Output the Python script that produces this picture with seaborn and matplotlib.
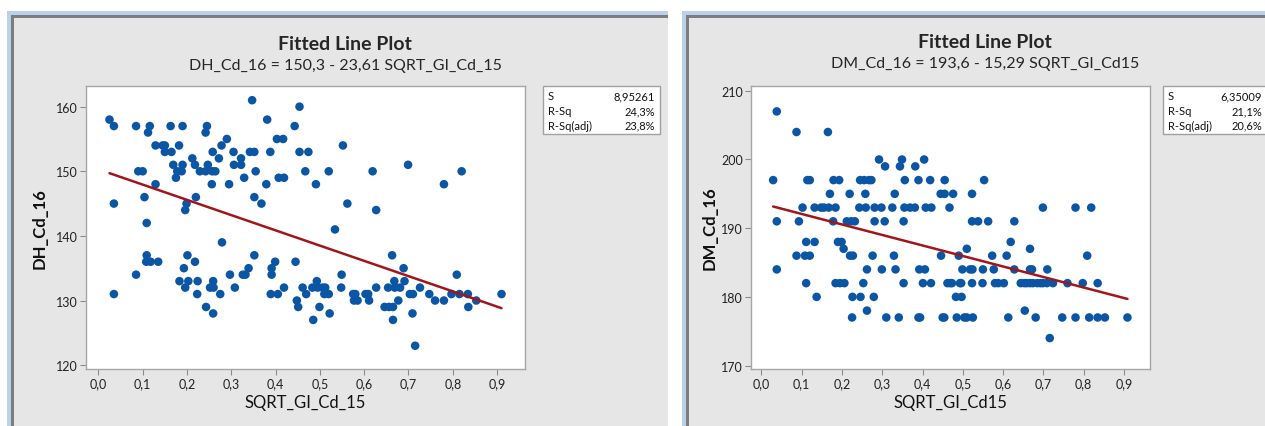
import numpy as np
import pandas as pd
import matplotlib
matplotlib.use("Agg")
import matplotlib.pyplot as plt
from matplotlib.patches import Rectangle
import seaborn as sns

# ---- data ----
dh_x = [0.025, 0.035, 0.035, 0.035, 0.085, 0.085, 0.09, 0.10, 0.104, 0.109, 0.109, 0.108,
        0.112, 0.116, 0.118, 0.129, 0.129, 0.135, 0.145, 0.15, 0.15, 0.163, 0.165, 0.169,
        0.175, 0.178, 0.182, 0.183, 0.188, 0.19, 0.19, 0.193, 0.196, 0.196, 0.199, 0.201,
        0.203, 0.212, 0.218, 0.22, 0.218, 0.223, 0.224, 0.229, 0.242, 0.245, 0.243, 0.242,
        0.247, 0.252, 0.256, 0.258, 0.257, 0.264, 0.259, 0.26, 0.259, 0.272, 0.275, 0.278,
        0.279, 0.29, 0.295, 0.297, 0.305, 0.306, 0.308, 0.322, 0.322, 0.329, 0.326, 0.332,
        0.339, 0.342, 0.347, 0.352, 0.352, 0.352, 0.355, 0.368, 0.379, 0.381, 0.388, 0.389,
        0.391, 0.391, 0.399, 0.403, 0.405, 0.407, 0.417, 0.419, 0.419, 0.443, 0.445, 0.448,
        0.451, 0.454, 0.454, 0.461, 0.467, 0.469, 0.474, 0.483, 0.485, 0.491, 0.493, 0.495,
        0.499, 0.506, 0.512, 0.51, 0.52, 0.522, 0.52, 0.534, 0.548, 0.549, 0.552, 0.562,
        0.575, 0.58, 0.577, 0.585, 0.603, 0.609, 0.611, 0.619, 0.627, 0.627, 0.646, 0.656,
        0.665, 0.654, 0.663, 0.665, 0.668, 0.669, 0.677, 0.681, 0.689, 0.691, 0.699, 0.703,
        0.71, 0.709, 0.715, 0.726, 0.747, 0.76, 0.78, 0.78, 0.797, 0.809, 0.815, 0.82,
        0.834, 0.835, 0.853, 0.91]
dh_y = [158, 157, 145, 131, 157, 134, 150, 150, 146, 142, 137, 136,
        156, 157, 136, 148, 154, 136, 154, 154, 153, 157, 153, 151,
        149, 150, 154, 133, 150, 157, 151, 135, 144, 132, 145, 137,
        133, 152, 151, 146, 136, 131, 133, 150, 156, 157, 129, 150,
        151, 132, 148, 153, 150, 150, 133, 132, 128, 152, 131, 154,
        139, 155, 148, 134, 153, 151, 132, 152, 151, 149, 134, 134,
        135, 153, 161, 153, 146, 137, 150, 145, 148, 158, 153, 131,
        135, 134, 136, 155, 131, 149, 155, 149, 132, 157, 136, 130,
        129, 160, 153, 132, 150, 131, 153, 132, 127, 148, 133, 132,
        129, 132, 132, 131, 131, 128, 150, 141, 132, 134, 154, 145,
        131, 131, 130, 130, 131, 131, 130, 150, 144, 132, 129, 129,
        129, 132, 137, 127, 133, 132, 130, 132, 135, 133, 151, 131,
        131, 128, 123, 132, 131, 130, 148, 130, 131, 134, 131, 150,
        131, 129, 130, 131]

dm_x = [0.029, 0.038, 0.038, 0.038, 0.087, 0.087, 0.093, 0.102, 0.108, 0.111, 0.111, 0.114,
        0.12, 0.12, 0.132, 0.132, 0.137, 0.148, 0.155, 0.165, 0.167, 0.17, 0.178, 0.179,
        0.184, 0.184, 0.193, 0.19, 0.199, 0.195, 0.206, 0.204, 0.212, 0.223, 0.232, 0.219,
        0.22, 0.227, 0.225, 0.226, 0.243, 0.245, 0.246, 0.253, 0.255, 0.258, 0.259, 0.262,
        0.262, 0.267, 0.273, 0.276, 0.279, 0.281, 0.281, 0.292, 0.298, 0.299, 0.306, 0.307,
        0.31, 0.325, 0.329, 0.331, 0.333, 0.341, 0.344, 0.349, 0.353, 0.353, 0.356, 0.355,
        0.369, 0.381, 0.382, 0.39, 0.39, 0.394, 0.392, 0.406, 0.401, 0.404, 0.408, 0.422,
        0.419, 0.421, 0.445, 0.455, 0.446, 0.45, 0.454, 0.455, 0.462, 0.469, 0.473, 0.467,
        0.476, 0.483, 0.497, 0.485, 0.49, 0.493, 0.496, 0.499, 0.504, 0.51, 0.51, 0.518,
        0.524, 0.523, 0.523, 0.523, 0.525, 0.538, 0.549, 0.55, 0.553, 0.563, 0.573, 0.577,
        0.58, 0.588, 0.602, 0.609, 0.613, 0.619, 0.628, 0.628, 0.644, 0.653, 0.659, 0.667,
        0.674, 0.654, 0.667, 0.667, 0.672, 0.681, 0.685, 0.693, 0.699, 0.699, 0.71, 0.716,
        0.709, 0.724, 0.747, 0.76, 0.78, 0.78, 0.798, 0.809, 0.814, 0.819, 0.835, 0.835,
        0.853, 0.909]
dm_y = [197, 207, 191, 184, 204, 186, 191, 193, 186, 188, 182, 197,
        197, 186, 193, 188, 180, 193, 193, 204, 193, 195, 191, 197,
        193, 182, 197, 188, 188, 182, 182, 187, 191, 191, 191, 195,
        186, 186, 177, 180, 193, 197, 180, 182, 197, 195, 193, 184,
        178, 197, 197, 186, 180, 193, 191, 200, 193, 184, 191, 199,
        177, 193, 186, 195, 184, 177, 199, 200, 191, 182, 197, 193,
        193, 193, 199, 197, 177, 177, 184, 184, 182, 200, 193, 193,
        197, 182, 195, 195, 186, 177, 177, 197, 182, 182, 182, 193,
        195, 180, 180, 177, 186, 182, 182, 184, 177, 177, 187, 184,
        184, 195, 191, 182, 177, 191, 182, 184, 197, 191, 186, 184,
        182, 182, 182, 186, 177, 188, 191, 184, 182, 182, 182, 182,
        182, 178, 187, 184, 184, 177, 182, 182, 182, 193, 184, 174,
        182, 182, 177, 182, 193, 177, 182, 186, 177, 193, 182, 177,
        177, 177]

# regression coefficients shown in the titles
dh_coef = [150.3, -23.61]
dm_coef = [193.6, -15.29]

dh_stats = ["8,95261", "24,3%", "23,8%"]
dm_stats = ["6,35009", "21,1%", "20,6%"]
stat_names = ["S", "R-Sq", "R-Sq(adj)"]

x_ticks = [0.0, 0.1, 0.2, 0.3, 0.4, 0.5, 0.6, 0.7, 0.8, 0.9]
x_ticklabels = ["0,0", "0,1", "0,2", "0,3", "0,4", "0,5", "0,6", "0,7", "0,8", "0,9"]
dh_yticks = [120, 130, 140, 150, 160]
dm_yticks = [170, 180, 190, 200, 210]

sns.set_style("white")
plt.rcParams["font.family"] = ["Lato", "DejaVu Sans"]

W, H = 1265, 427
fig = plt.figure(figsize=(W / 100, H / 100), dpi=100)

# background layer in pixel coordinates
bg = fig.add_axes([0, 0, 1, 1], zorder=0)
bg.set_xlim(0, W)
bg.set_ylim(H, 0)
bg.axis("off")

def panel_frame(x0, y0, x1):
    bg.add_patch(Rectangle((x0, y0), x1 - x0, H - y0 + 5, fc="#b9d1ea", ec="none"))
    bg.add_patch(Rectangle((x0 + 4, y0 + 4), x1 - x0, H, fc="#7d7d7d", ec="none"))
    bg.add_patch(Rectangle((x0 + 7, y0 + 7), x1 - x0, H, fc="#e6e6e6", ec="none"))

panel_frame(7, 12, 668)
panel_frame(682, 12, 1270)
# white gap between the two panels
bg.add_patch(Rectangle((668, 0), 14, H, fc="white", ec="none"))


def px_axes(x0, y0, x1, y1):
    return fig.add_axes([x0 / W, 1 - y1 / H, (x1 - x0) / W, (y1 - y0) / H], zorder=1)


def draw_panel(box, xs, ys, coef, yticks, ylim, xlim, xlabel, ylabel, ylab_x):
    ax = px_axes(*box)
    df = pd.DataFrame({"x": xs, "y": ys})
    sns.scatterplot(data=df, x="x", y="y", ax=ax, color="#0b56a4", s=38,
                    edgecolor="none", linewidth=0, zorder=2)
    fit_x = np.array([min(xs), max(xs)])
    fit = pd.DataFrame({"x": fit_x, "y": coef[0] + coef[1] * fit_x})
    sns.lineplot(data=fit, x="x", y="y", ax=ax, color="#a0161a", lw=1.8, zorder=3)
    ax.set_xlim(*xlim)
    ax.set_ylim(*ylim)
    ax.set_xticks(x_ticks)
    ax.set_xticklabels(x_ticklabels)
    ax.set_yticks(yticks)
    ax.set_yticklabels([str(t) for t in yticks])
    ax.tick_params(axis="both", direction="out", length=4, width=0.8, color="#8c8c8c",
                   labelsize=9, labelcolor="#222222", pad=2,
                   bottom=True, left=True)
    for sp in ax.spines.values():
        sp.set_color("#a6a6a6")
        sp.set_linewidth(1.0)
    ax.set_xlabel(xlabel, fontsize=12, color="#111111")
    ax.set_ylabel(ylabel, fontsize=12, fontweight="bold", color="#111111")
    ax.xaxis.set_label_coords(0.5, -0.088)
    ax.yaxis.set_label_coords(ylab_x, 0.5)
    ax.set_facecolor("white")
    return ax


draw_panel((86, 87, 525, 370), dh_x, dh_y, dh_coef, dh_yticks, (119.4, 163.2),
           (-0.028, 0.963), "SQRT_GI_Cd_15", "DH_Cd_16", -0.087)
draw_panel((751, 87, 1150, 370), dm_x, dm_y, dm_coef, dm_yticks, (169.5, 210.7),
           (-0.026, 0.965), "SQRT_GI_Cd15", "DM_Cd_16", -0.083)

# titles
bg.text(345, 44, "Fitted Line Plot", ha="center", va="center", fontsize=14, fontweight="bold")
bg.text(345, 66, "DH_Cd_16 = 150,3 - 23,61 SQRT_GI_Cd_15", ha="center", va="center", fontsize=11.5)
bg.text(985, 43, "Fitted Line Plot", ha="center", va="center", fontsize=14, fontweight="bold")
bg.text(985, 64, "DM_Cd_16 = 193,6 - 15,29 SQRT_GI_Cd15", ha="center", va="center", fontsize=11.5)


def stat_box(x0, x1, vals, vx):
    bg.add_patch(Rectangle((x0, 87), x1 - x0, 48, fc="white", ec="#a0a0a0", lw=1.0))
    for i, (name, v) in enumerate(zip(stat_names, vals)):
        yy = 97 + i * 14.5
        bg.text(x0 + 5, yy, name, ha="left", va="center", fontsize=8, color="#111111")
        bg.text(vx, yy, v, ha="right", va="center", fontsize=8, color="#111111")


stat_box(543, 660, dh_stats, 655)
stat_box(1163, 1268, dm_stats, 1262)

fig.savefig("out.png", dpi=100)
